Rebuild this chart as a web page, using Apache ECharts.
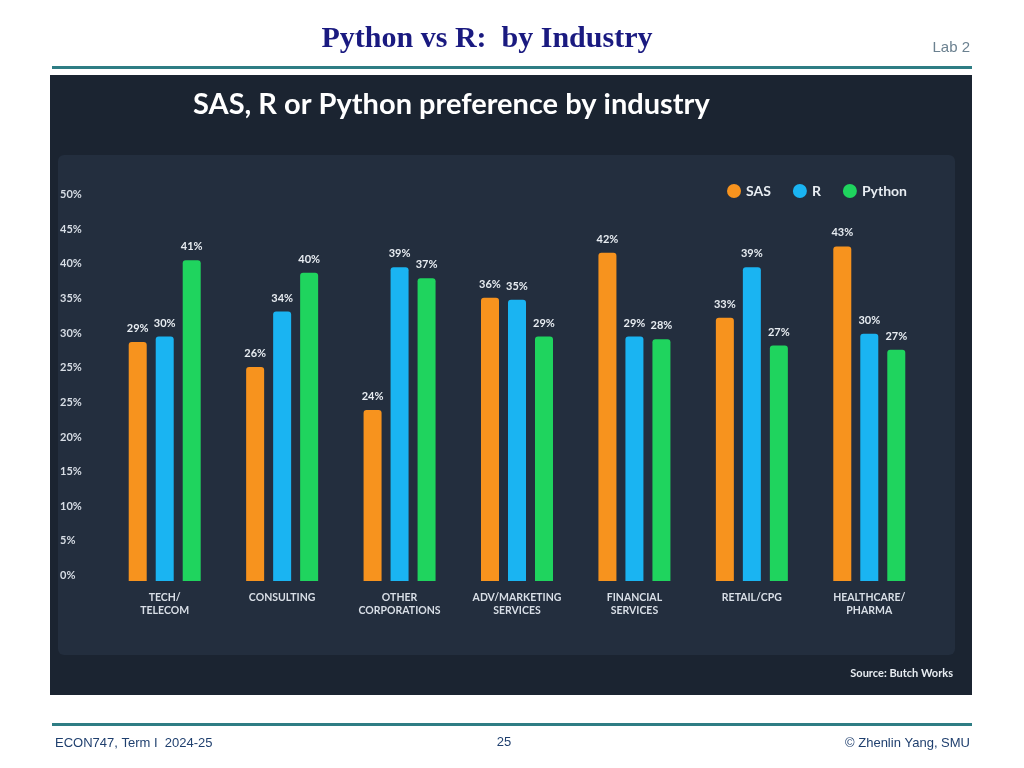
<!DOCTYPE html>
<html><head><meta charset="utf-8">
<script src="https://cdn.jsdelivr.net/npm/echarts@6/dist/echarts.min.js"></script>
<style>html,body{margin:0;padding:0;background:#fff}#c{width:1024px;height:768px}</style>
</head><body><div id="c"></div>
<script>
const categories = ['TECH/\nTELECOM','CONSULTING','OTHER\nCORPORATIONS','ADV/MARKETING\nSERVICES','FINANCIAL\nSERVICES','RETAIL/CPG','HEALTHCARE/\nPHARMA'];
// displayed percentages (bar labels)
const sasLabels = [29,26,24,36,42,33,43];
const rLabels = [30,34,39,35,29,39,30];
const pyLabels = [41,40,37,29,28,27,27];
// bar heights as drawn in the picture, in axis units (one tick = 5)
const sasHeights = [34.5,30.9,24.7,40.9,47.4,38.0,48.3];
const rHeights = [35.3,38.9,45.3,40.6,35.3,45.3,35.7];
const pyHeights = [46.3,44.5,43.7,35.3,34.9,34.0,33.4];
const yTickLabels = ['0%','5%','10%','15%','20%','25%','25%','30%','35%','40%','45%','50%'];

const chart = echarts.init(document.getElementById('c'));
const mk = (name, h, l, color) => ({
  name, type:'bar', barWidth:18, barGap:'50%',
  data: h.map((v,i)=>({value:v, lab:l[i]})),
  itemStyle:{color, borderRadius:[3,3,0,0]},
  label:{show:true, position:'top', distance:8, color:'#e8edf2', fontSize:11, fontWeight:'bold',
    fontFamily:'Lato', formatter:p=>p.data.lab+'%'}
});
const txt = (x,y,text,style) => ({type:'text', x, y, style:Object.assign({text}, style)});
chart.setOption({
  backgroundColor:'#ffffff',
  animation:false,
  graphic:[
    {type:'rect', shape:{x:50,y:75,width:922,height:620}, style:{fill:'#1b2431'}},
    {type:'rect', shape:{x:58,y:155,width:897,height:500,r:6}, style:{fill:'#232e3e'}},
    {type:'rect', shape:{x:52,y:66,width:920,height:3}, style:{fill:'#2e7d84'}},
    {type:'rect', shape:{x:52,y:723,width:920,height:3}, style:{fill:'#2e7d84'}},
    txt(487,24,'Python vs R:  by Industry',{fill:'#1a1a80',font:'bold 30px "Liberation Serif"',textAlign:'center'}),
    txt(970,40,'Lab 2',{fill:'#6b8190',font:'15px "Liberation Sans"',textAlign:'right'}),
    txt(193,90,'SAS, R or Python preference by industry',{fill:'#ffffff',font:'bold 29px Lato'}),
    txt(953,668,'Source: Butch Works',{fill:'#e8edf2',font:'bold 11px Lato',textAlign:'right'}),
    txt(55,737,'ECON747, Term I  2024-25',{fill:'#1f3f6e',font:'13px "Liberation Sans"'}),
    txt(504,736,'25',{fill:'#1f3f6e',font:'13px "Liberation Sans"',textAlign:'center'}),
    txt(970,737,'© Zhenlin Yang, SMU',{fill:'#1f3f6e',font:'13px "Liberation Sans"',textAlign:'right'})
  ],
  legend:{top:179, right:112, itemWidth:14, itemHeight:14, itemGap:22, icon:'circle',
    textStyle:{color:'#e8edf2', fontSize:14, fontWeight:'bold', fontFamily:'Lato'},
    data:['SAS','R','Python']},
  grid:{left:106, width:822, top:200, bottom:187},
  xAxis:{type:'category', data:categories,
    axisLine:{show:false}, axisTick:{show:false},
    axisLabel:{color:'#d8dee6', fontSize:10.5, fontWeight:'bold', fontFamily:'Lato', lineHeight:13, margin:10, interval:0}},
  yAxis:{type:'value', min:0, max:55, interval:5, splitLine:{show:false},
    axisLine:{show:false}, axisTick:{show:false},
    axisLabel:{color:'#d8dee6', fontSize:11, fontWeight:'bold', fontFamily:'Lato', align:'left', margin:46,
      verticalAlign:'bottom', formatter:(v)=>yTickLabels[Math.round(v/5)]}},
  series:[mk('SAS',sasHeights,sasLabels,'#f7931e'), mk('R',rHeights,rLabels,'#1ab4f2'), mk('Python',pyHeights,pyLabels,'#1fd45e')]
});
</script></body></html>
